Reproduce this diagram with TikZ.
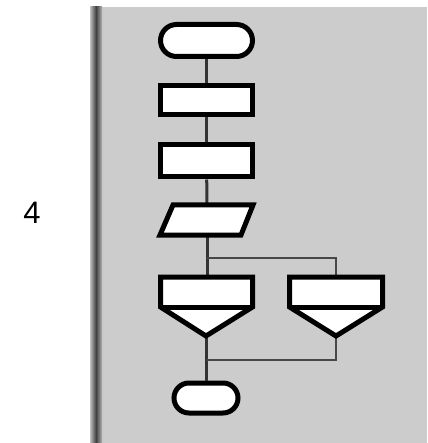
\documentclass[tikz,border=0pt]{standalone}
\usepackage{fontspec}
\setmainfont{Liberation Sans}
\usetikzlibrary{shapes.misc}
\begin{document}
\begin{tikzpicture}[x=1pt,y=-1pt,
  box/.style={draw=black,fill=white,line width=5pt,inner sep=0pt,minimum width=92pt},
  term/.style={box,rounded rectangle},
  conn/.style={draw=black!80,line width=3pt},
  branch/.style={draw=black!72,line width=2pt}]
\useasboundingbox (0,0) rectangle (427,443);
\fill[white] (0,0) rectangle (427,443);
\fill[black!20] (99,7) rectangle (427,443);
\shade[left color=black!25,right color=black!30,middle color=black!75] (90,7) rectangle (102,443);
\node[font=\fontsize{31}{31}\selectfont] (lab) at (32,213) {4};
% nodes
\node[term,minimum height=32pt] (start) at (206.5,40.5) {};
\node[box,minimum height=29pt] (r1) at (206.5,100.5) {};
\node[box,minimum height=32pt] (r2) at (206.5,161) {};
\coordinate (pt) at (207,205);
\coordinate (pb) at (207,235);
\coordinate (d1t) at (207,277);
\coordinate (d1b) at (206,336);
\coordinate (d2t) at (336,277);
\coordinate (d2b) at (336,336);
\coordinate (jb) at (207,258);
\coordinate (jm) at (207,360);
\node[term,minimum width=64pt,minimum height=30pt] (end) at (206,398) {};
% connectors
\draw[conn] (start) -- (r1);
\draw[conn] (r1) -- (r2);
\draw[conn] (r2) -- (pt);
\draw[conn] (pb) -- (d1t);
\draw[branch] (jb) -| (d2t);
\draw[conn] (d1b) -- (end);
\draw[branch] (d2b) |- (jm);
% parallelogram
\draw[box] (173,205) -- (253,205) -- (241,235) -- (160,235) -- cycle;
% decisions
\draw[box,line join=miter] (160.5,277) -- (252.5,277) -- (252.5,307) -- (d1b) -- (160.5,307) -- cycle;
\draw[line width=5pt] (160.5,307) -- (252.5,307);
\draw[box,line join=miter] (289.5,277) -- (382.5,277) -- (382.5,307) -- (d2b) -- (289.5,307) -- cycle;
\draw[line width=5pt] (289.5,307) -- (382.5,307);
\end{tikzpicture}
\end{document}
